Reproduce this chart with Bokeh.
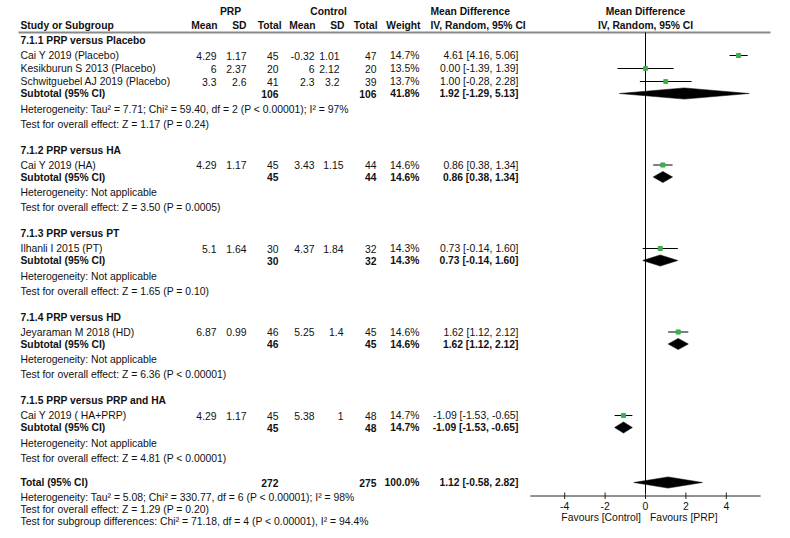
from bokeh.plotting import figure
from bokeh.models import Range1d, ColumnDataSource
from bokeh.core.properties import value
from bokeh.embed import file_html
from bokeh.resources import INLINE

# ---------------- data ----------------
groups = ["7.1.1 PRP versus Placebo", "7.1.2 PRP versus HA", "7.1.3 PRP versus PT",
          "7.1.4 PRP versus HD", "7.1.5 PRP versus PRP and HA"]
studies = ["Cai Y 2019 (Placebo)", "Kesikburun S 2013 (Placebo)", "Schwitguebel AJ 2019 (Placebo)",
           "Cai Y 2019 (HA)", "Ilhanli I 2015 (PT)", "Jeyaraman M 2018 (HD)", "Cai Y 2019 ( HA+PRP)"]
study_group = [0, 0, 0, 1, 2, 3, 4]
prp_mean = [4.29, 6, 3.3, 4.29, 5.1, 6.87, 4.29]
prp_sd = [1.17, 2.37, 2.6, 1.17, 1.64, 0.99, 1.17]
prp_n = [45, 20, 41, 45, 30, 46, 45]
ctl_mean = [-0.32, 6, 2.3, 3.43, 4.37, 5.25, 5.38]
ctl_sd = [1.01, 2.12, 3.2, 1.15, 1.84, 1.4, 1]
ctl_n = [47, 20, 39, 44, 32, 45, 48]
weight = [14.7, 13.5, 13.7, 14.6, 14.3, 14.6, 14.7]
md = [4.61, 0.00, 1.00, 0.86, 0.73, 1.62, -1.09]
md_lo = [4.16, -1.39, -0.28, 0.38, -0.14, 1.12, -1.53]
md_hi = [5.06, 1.39, 2.28, 1.34, 1.60, 2.12, -0.65]

sub_prp_n = [106, 45, 30, 46, 45]
sub_ctl_n = [106, 44, 32, 45, 48]
sub_weight = [41.8, 14.6, 14.3, 14.6, 14.7]
sub_md = [1.92, 0.86, 0.73, 1.62, -1.09]
sub_lo = [-1.29, 0.38, -0.14, 1.12, -1.53]
sub_hi = [5.13, 1.34, 1.60, 2.12, -0.65]
sub_het = ["Heterogeneity: Tau\u00b2 = 7.71; Chi\u00b2 = 59.40, df = 2 (P < 0.00001); I\u00b2 = 97%",
           "Heterogeneity: Not applicable", "Heterogeneity: Not applicable",
           "Heterogeneity: Not applicable", "Heterogeneity: Not applicable"]
sub_test = ["Test for overall effect: Z = 1.17 (P = 0.24)",
            "Test for overall effect: Z = 3.50 (P = 0.0005)",
            "Test for overall effect: Z = 1.65 (P = 0.10)",
            "Test for overall effect: Z = 6.36 (P < 0.00001)",
            "Test for overall effect: Z = 4.81 (P < 0.00001)"]

total_prp_n = 272
total_ctl_n = 275
total_weight = 100.0
total_md = 1.12
total_lo = -0.58
total_hi = 2.82
total_notes = ["Heterogeneity: Tau\u00b2 = 5.08; Chi\u00b2 = 330.77, df = 6 (P < 0.00001); I\u00b2 = 98%",
               "Test for overall effect: Z = 1.29 (P = 0.20)",
               "Test for subgroup differences: Chi\u00b2 = 71.18, df = 4 (P < 0.00001), I\u00b2 = 94.4%"]

axis_ticks = [-4, -2, 0, 2, 4]
favours = ["Favours [Control]", "Favours [PRP]"]

# ---------------- layout ----------------
FONT = "Liberation Sans"
FS = "10.4px"
FSB = "10.3px"
TXT = "#111111"
GREEN = "#3dae49"
W, H = 774, 530
X0, Y0 = 0, 0
ZERO_PX, PX_PER_UNIT = 645, 20.2
AXIS_HALF = 5.7
DIAMOND_H = 5.6

p = figure(width=W, height=H, output_backend="svg", toolbar_location=None,
           x_axis_type=None, y_axis_type=None, min_border=0,
           x_range=Range1d(X0, X0 + W), y_range=Range1d(Y0 + H, Y0))
p.extra_x_ranges = {"md": Range1d((X0 - ZERO_PX) / PX_PER_UNIT, (X0 + W - ZERO_PX) / PX_PER_UNIT)}
p.outline_line_color = None
p.grid.visible = False
p.background_fill_color = "white"
p.border_fill_color = "white"

texts = {}


def put(x, y, s, align="left", bold=False):
    d = texts.setdefault((align, bold), {"x": [], "y": [], "t": []})
    d["x"].append(x)
    d["y"].append(y)
    d["t"].append(s)


def fmt(v):
    return f"{v:g}"


def ci(m, lo, hi):
    return f"{m:.2f} [{lo:.2f}, {hi:.2f}]"


# column anchors (reference px)
C_NAME = 20
C_PM, C_PSD, C_PN = 216, 246, 278
C_CM, C_CN = 314, 376
C_W, C_CI = 419, 518

# headers
put(230, 11, "PRP", "center", True)
put(328, 11, "Control", "center", True)
put(430, 11, "Mean Difference", "left", True)
put(645, 11, "Mean Difference", "center", True)
put(C_NAME, 25, "Study or Subgroup", "left", True)
put(217, 25, "Mean", "right", True)
put(246, 25, "SD", "right", True)
put(281, 25, "Total", "right", True)
put(315, 25, "Mean", "right", True)
put(344, 25, "SD", "right", True)
put(377, 25, "Total", "right", True)
put(420, 25, "Weight", "right", True)
put(430, 25, "IV, Random, 95% CI", "left", True)
put(645, 25, "IV, Random, 95% CI", "center", True)

p.segment(x0=[18], y0=[32], x1=[770], y1=[32], line_color="#8a8a8a", line_width=2)

pt_x, pt_y, pt_s = [], [], []
ci_x0, ci_x1, ci_y = [], [], []
dia_xs, dia_ys = [], []

y = 40
for g, title in enumerate(groups):
    put(C_NAME, y, title, "left", True)
    y += 15
    first = True
    csd_right = 339 if g == 0 else 343
    for i, name in enumerate(studies):
        if study_group[i] != g:
            continue
        if not first:
            y += 13
        first = False
        put(C_NAME, y, name)
        put(C_PM, y, fmt(prp_mean[i]), "right")
        put(C_PSD, y, fmt(prp_sd[i]), "right")
        put(C_PN, y, fmt(prp_n[i]), "right")
        put(C_CM, y, fmt(ctl_mean[i]), "right")
        put(csd_right, y, fmt(ctl_sd[i]), "right")
        put(C_CN, y, fmt(ctl_n[i]), "right")
        put(C_W, y, f"{weight[i]:.1f}%", "right")
        put(C_CI, y, ci(md[i], md_lo[i], md_hi[i]), "right")
        pt_x.append(md[i]); pt_y.append(y); pt_s.append(weight[i] * 0.28)
        ci_x0.append(md_lo[i]); ci_x1.append(md_hi[i]); ci_y.append(y)
    y += 12
    put(C_NAME, y, "Subtotal (95% CI)", "left", True)
    put(C_PN, y, fmt(sub_prp_n[g]), "right", True)
    put(C_CN, y, fmt(sub_ctl_n[g]), "right", True)
    put(C_W, y, f"{sub_weight[g]:.1f}%", "right", True)
    put(C_CI, y, ci(sub_md[g], sub_lo[g], sub_hi[g]), "right", True)
    dia_xs.append([sub_lo[g], sub_md[g], sub_hi[g], sub_md[g]])
    dia_ys.append([y, y - DIAMOND_H, y, y + DIAMOND_H])
    y += 15.5
    put(C_NAME, y, sub_het[g])
    y += 15
    put(C_NAME, y, sub_test[g])
    y += 26

# overall
y -= 1.5
put(C_NAME, y, "Total (95% CI)", "left", True)
put(C_PN, y, fmt(total_prp_n), "right", True)
put(C_CN, y, fmt(total_ctl_n), "right", True)
put(C_W, y, f"{total_weight:.1f}%", "right", True)
put(C_CI, y, ci(total_md, total_lo, total_hi), "right", True)
dia_xs.append([total_lo, total_md, total_hi, total_md])
dia_ys.append([y, y - DIAMOND_H, y, y + DIAMOND_H])
y += 14.5
for note in total_notes:
    put(C_NAME, y, note)
    y += 12

# forest axis
AXIS_Y = 495.5
p.segment(x0=[0], y0=[32], x1=[0], y1=[AXIS_Y], line_color="black", line_width=1, x_range_name="md")
p.segment(x0=[-AXIS_HALF], y0=[AXIS_Y], x1=[AXIS_HALF], y1=[AXIS_Y], line_color="#222222", line_width=1,
          x_range_name="md")
p.segment(x0=axis_ticks, y0=[AXIS_Y - 3.5] * len(axis_ticks), x1=axis_ticks, y1=[AXIS_Y + 3] * len(axis_ticks),
          line_color="#222222", line_width=1, x_range_name="md")
p.text(x=axis_ticks, y=[505] * len(axis_ticks), text=[str(t) for t in axis_ticks], text_align="center",
       text_baseline="middle", text_font=value(FONT), text_font_size=FS, text_color=TXT, x_range_name="md")
fav_gap = 4.5 / PX_PER_UNIT
p.text(x=[-fav_gap], y=[516.5], text=[favours[0]], text_align="right", text_baseline="middle",
       text_font=value(FONT), text_font_size=FS, text_color=TXT, x_range_name="md")
p.text(x=[fav_gap], y=[516.5], text=[favours[1]], text_align="left", text_baseline="middle",
       text_font=value(FONT), text_font_size=FS, text_color=TXT, x_range_name="md")

# CIs, points, diamonds
p.segment(x0=ci_x0, y0=ci_y, x1=ci_x1, y1=ci_y, line_color="black", line_width=1, x_range_name="md")
p.scatter(x=pt_x, y=pt_y, size=pt_s, marker="square", fill_color=GREEN, line_color=GREEN, x_range_name="md")
p.patches(xs=dia_xs, ys=dia_ys, fill_color="black", line_color="black", line_width=0.5, x_range_name="md")

for (align, bold), d in texts.items():
    src = ColumnDataSource(dict(x=d["x"], y=d["y"], t=d["t"]))
    p.text(x="x", y="y", text="t", source=src, text_align=align, text_baseline="middle",
           text_font=value(FONT), text_font_size=FSB if bold else FS,
           text_font_style="bold" if bold else "normal", text_color=TXT)

open("out.html", "w").write(file_html(p, INLINE))
